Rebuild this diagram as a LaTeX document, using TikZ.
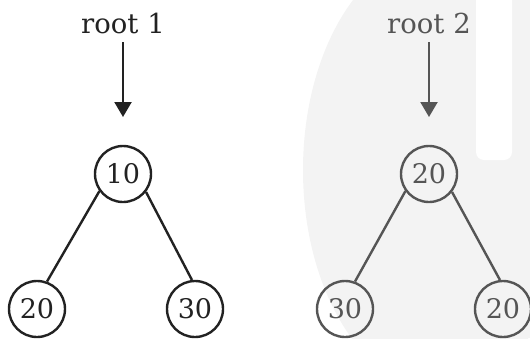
\documentclass[tikz,border=0pt]{standalone}
\usepackage{fontspec}
\setmainfont{DejaVu Serif}
\usetikzlibrary{arrows.meta}
\definecolor{inkA}{HTML}{222222}
\definecolor{inkB}{HTML}{555555}
\definecolor{emblemgray}{HTML}{F3F3F3}
\tikzset{
  keynode/.style={circle, draw, line width=2.4pt, minimum size=56pt, inner sep=0pt,
    font=\fontsize{27}{27}\selectfont},
  rootlabel/.style={font=\fontsize{27.5}{27.5}\selectfont, inner sep=0pt},
  edge/.style={line width=2.4pt},
  pointer/.style={line width=2.2pt, -{Triangle[width=17pt,length=15pt]}},
}
\begin{document}
\begin{tikzpicture}[x=1pt,y=-1pt]
  \useasboundingbox (0,0) rectangle (530,338);
  % faint background emblem
  \begin{scope}
    \clip (0,0) rectangle (530,338);
    \fill[emblemgray] (440,170) ellipse [x radius=137, y radius=220];
    \fill[emblemgray] (513,0) rectangle (530,338);
    \fill[white, rounded corners=8pt] (476,-20) rectangle (512,160);
  \end{scope}

  % first tree
  \begin{scope}[color=inkA, text=inkA]
    \node[rootlabel] (t1) at (123,23) {root 1};
    \coordinate (p1) at (123,42);
    \coordinate (q1) at (123,117);
    \node[keynode] (a) at (123,174) {10};
    \node[keynode] (b) at (37,309) {20};
    \node[keynode] (c) at (195,309) {30};
    \draw[pointer] (p1) -- (q1);
    \draw[edge] (a.216) -- (b.70);
    \draw[edge] (a.322) -- (c.96);
  \end{scope}

  % second tree
  \begin{scope}[color=inkB, text=inkB]
    \node[rootlabel] (t2) at (429,23) {root 2};
    \coordinate (p2) at (429,42);
    \coordinate (q2) at (429,117);
    \node[keynode] (d) at (429,174) {20};
    \node[keynode] (e) at (345,309) {30};
    \node[keynode] (f) at (503,309) {20};
    \draw[pointer] (p2) -- (q2);
    \draw[edge] (d.216) -- (e.70);
    \draw[edge] (d.322) -- (f.96);
  \end{scope}
\end{tikzpicture}
\end{document}
